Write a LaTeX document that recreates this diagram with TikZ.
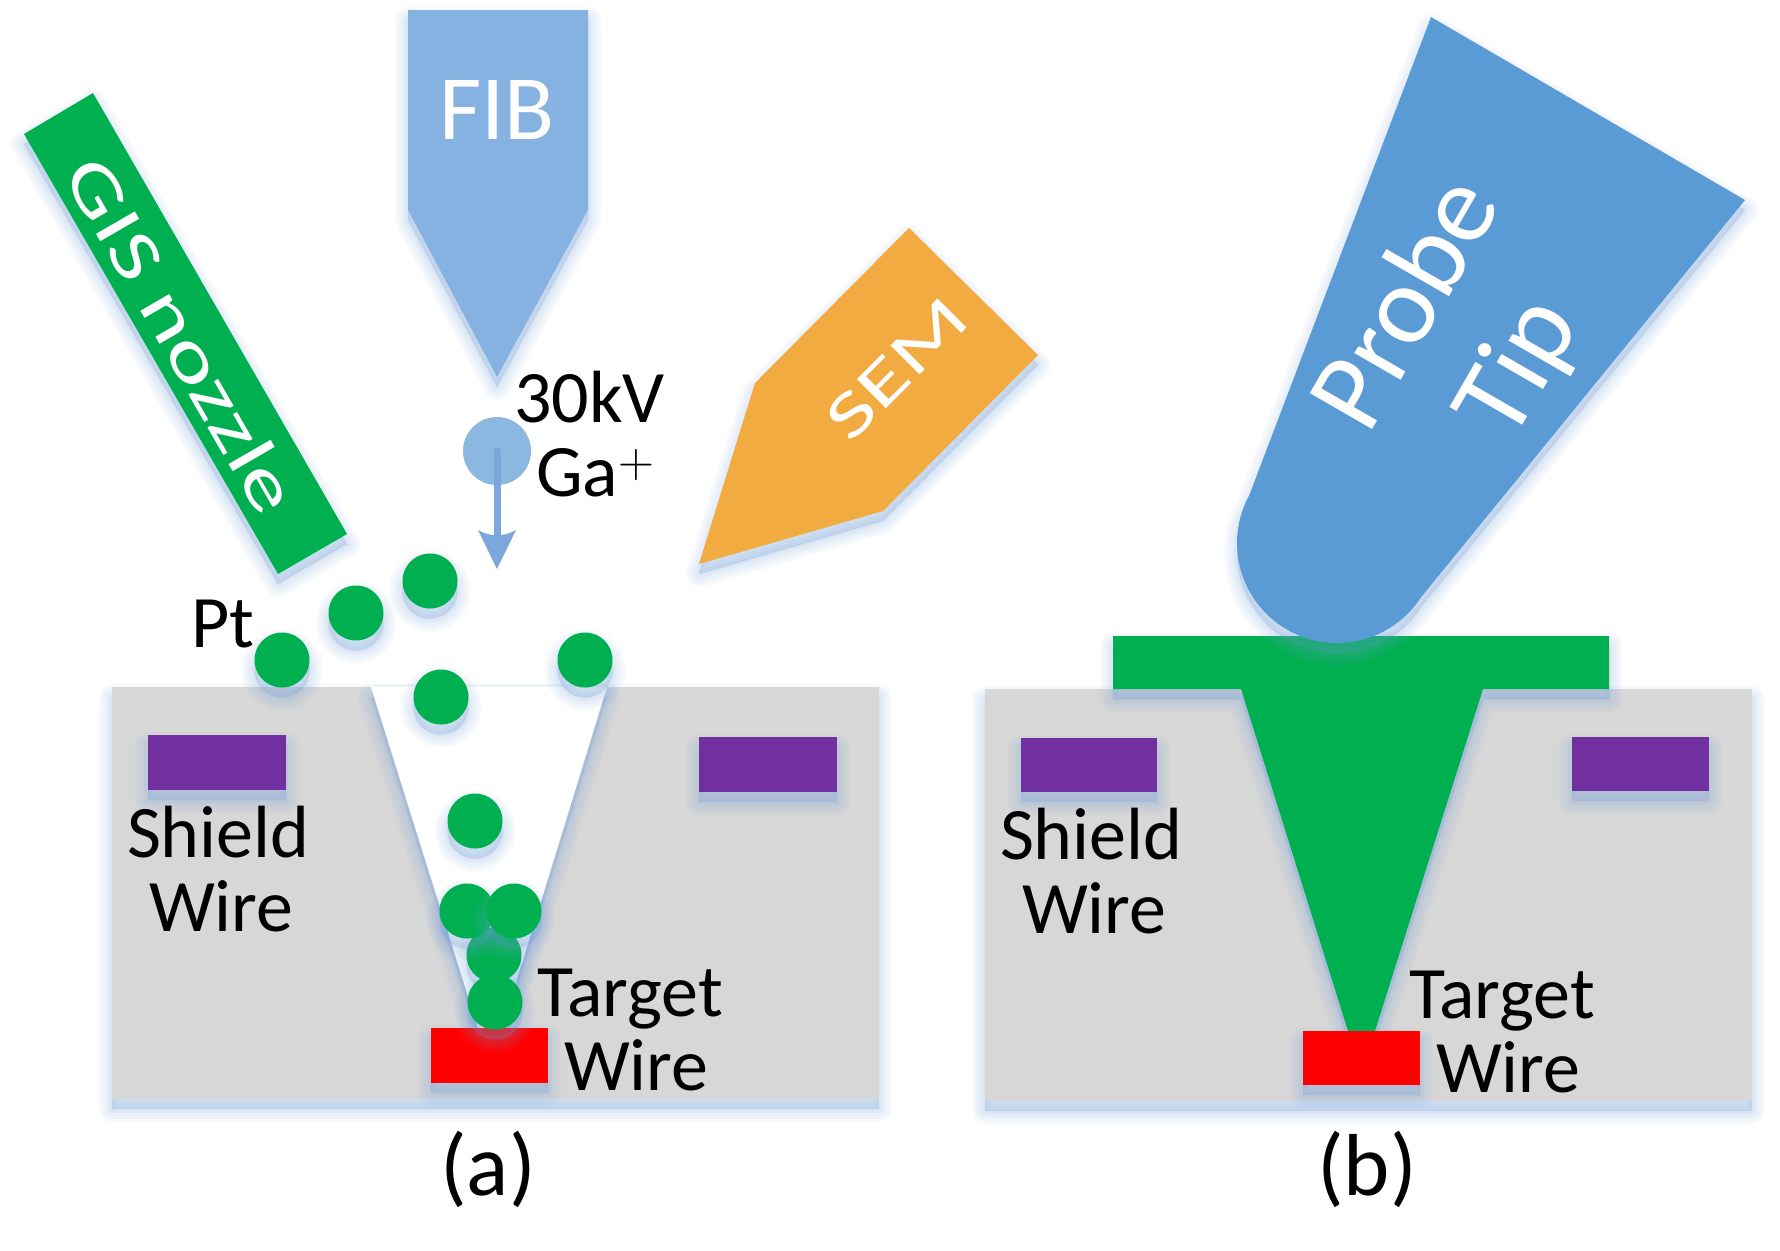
\documentclass[tikz,border=0pt]{standalone}
\usepackage{fontspec}
\setmainfont{Carlito}
\definecolor{gisgreen}{HTML}{00B050}
\definecolor{wirepurple}{HTML}{7030A0}
\definecolor{substrate}{HTML}{D7D7D7}
\definecolor{fibblue}{HTML}{85B2E0}
\definecolor{probeblue}{HTML}{5B9BD5}
\definecolor{semorange}{HTML}{F1AB40}
\definecolor{glow}{HTML}{6F9FD8}
\definecolor{beamblue}{HTML}{7BA7DD}
% Fills a closed outline over a soft drop shadow built from stacked strokes.
\newcommand{\shadedfill}[2]{%
  \foreach \w in {26,20,14,8,3}{%
    \path[draw=glow,fill=glow,opacity=0.055,line width=\w*0.5pt,line join=round,yshift=-5pt] #2;}%
  \fill[#1] #2;}
\newcommand{\pelletat}[2]{\shadedfill{gisgreen}{(#1,#2) ++(-27.5,0) -- plot[domain=180:540,samples=49,smooth] ({#1+27.5*cos(\x)},{#2+27.5*sin(\x)}) -- cycle}}
\tikzset{
  lbl/.style={font=\fontsize{37}{37}\selectfont,text=black,anchor=base west,inner sep=0pt,outer sep=0pt},
  onshape/.style={text=white,inner sep=0pt,outer sep=0pt,anchor=center},
  caption/.style={font=\fontsize{44}{44}\selectfont,text=black,inner sep=0pt,anchor=center},
}
\begin{document}
\begin{tikzpicture}[x=0.5pt,y=-0.5pt]
\useasboundingbox (0,0) rectangle (1780,1250);
\fill[white] (0,0) rectangle (1780,1250);

% Panel (a): substrate, milled trench, wires
\shadedfill{substrate}{(112,687) -- (879,687) -- (879,1099) -- (112,1099) -- cycle}
\shadedfill{white}{(371,687) -- (607,687) -- (502,1028) -- (478,1028) -- cycle}
\shadedfill{wirepurple}{(148,735) -- (286,735) -- (286,790) -- (148,790) -- cycle}
\shadedfill{wirepurple}{(699,737) -- (837,737) -- (837,792) -- (699,792) -- cycle}
\shadedfill{red}{(431,1028) -- (548,1028) -- (548,1083) -- (431,1083) -- cycle}

% Instruments above the sample
\shadedfill{gisgreen}{(93,93) -- (347,534) -- (278,574) -- (24,134) -- cycle}
\shadedfill{fibblue}{(408,10) -- (588,10) -- (588,210) -- (497,377) -- (408,210) -- cycle}
\shadedfill{semorange}{(909,228) -- (1038,355) -- (883,511) -- (699,564) -- (755,383) -- cycle}

% Platinum precursor pellets
\pelletat{282}{660}
\pelletat{356}{613}
\pelletat{430}{581}
\pelletat{585}{660}
\pelletat{441}{697}
\pelletat{475}{821}
\pelletat{494}{955}
\pelletat{467}{911}
\pelletat{514}{911}
\pelletat{495}{1002}

% Gallium ion and its direction of travel
\fill[probeblue,opacity=0.7] (497,451) circle[x radius=34,y radius=34];
\coordinate (gaStart) at (497,451);
\coordinate (gaEnd) at (497,540);
\draw[beamblue,line width=3.5pt,line cap=round] (gaStart) -- (gaEnd);
\fill[beamblue] (478,530) .. controls (490,537) and (504,537) .. (516,530) -- (497,569) -- cycle;

% Panel (b): substrate, deposited platinum, wires
\shadedfill{substrate}{(985,689) -- (1752,689) -- (1752,1101) -- (985,1101) -- cycle}
\shadedfill{gisgreen}{(1113,636) -- (1609,636) -- (1609,689) -- (1483,689) -- (1375,1031) -- (1348,1031) -- (1241,689) -- (1113,689) -- cycle}
\shadedfill{wirepurple}{(1021,738) -- (1157,738) -- (1157,792) -- (1021,792) -- cycle}
\shadedfill{wirepurple}{(1572,737) -- (1709,737) -- (1709,791) -- (1572,791) -- cycle}
\shadedfill{red}{(1303,1031) -- (1420,1031) -- (1420,1085) -- (1303,1085) -- cycle}

% Probe tip resting on the deposit
\shadedfill{probeblue}{(1431,17) -- (1745,200) -- (1422,596) -- plot[domain=32:209,samples=40,smooth] ({1337+100*cos(\x)},{543+100*sin(\x)}) -- cycle}

% Labels on the instruments
\node[onshape,rotate=-60] (gisLabel) at (182,335) {\fontsize{35}{35}\selectfont\scalebox{1.38}[1]{GIS nozzle}};
\node[onshape] (fibLabel) at (497,110) {\fontsize{46}{46}\selectfont FIB};
\node[onshape,rotate=45] (semLabel) at (897,369) {\fontsize{32}{32}\selectfont\scalebox{1.5}[1]{SEM}};
\node[onshape,rotate=60] (probeLabel) at (1402,301) {\fontsize{56}{56}\selectfont Probe};
\node[onshape,rotate=60] (tipLabel) at (1521,369) {\fontsize{56}{56}\selectfont Tip};

% Labels of panel (a)
\node[lbl] (kvLabel) at (514,422) {30kV};
\node[lbl] (gaLabel) at (536,496) {Ga$^{+}$};
\node[lbl] (ptLabel) at (191,647) {Pt};
\node[lbl] (shieldA) at (127,857) {Shield};
\node[lbl] (shieldWireA) at (149,931) {Wire};
\node[lbl] (targetA) at (537,1016) {Target};
\node[lbl] (targetWireA) at (564,1090) {Wire};
\node[caption] (capA) at (488,1169) {(a)};

% Labels of panel (b)
\node[lbl] (shieldB) at (1000,859) {Shield};
\node[lbl] (shieldWireB) at (1022,933) {Wire};
\node[lbl] (targetB) at (1409,1018) {Target};
\node[lbl] (targetWireB) at (1436,1092) {Wire};
\node[caption] (capB) at (1367,1169) {(b)};
\end{tikzpicture}
\end{document}
